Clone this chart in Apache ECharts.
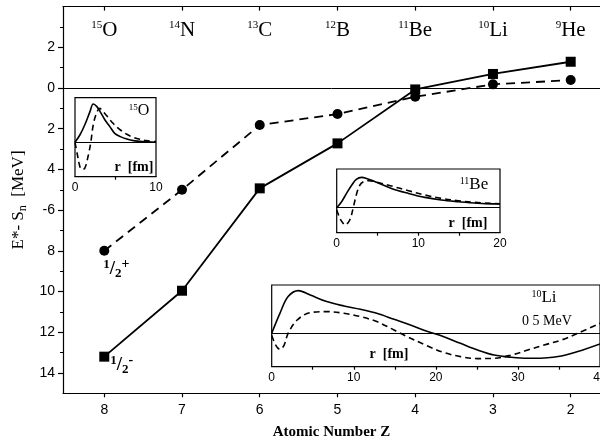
<!DOCTYPE html>
<html><head><meta charset="utf-8">
<script src="https://cdn.jsdelivr.net/npm/echarts@6/dist/echarts.min.js"></script>
<style>html,body{margin:0;padding:0;background:#fff}#c{width:600px;height:443px}</style>
</head><body><div id="c"></div>
<script>
// ---- main panel data ----
const zValues = [8, 7, 6, 5, 4, 3, 2];
const massNumbers = [15, 14, 13, 12, 11, 10, 9];
const elementSymbols = ['O', 'N', 'C', 'B', 'Be', 'Li', 'He'];
const plusEnergies = [-8.0, -5.0, -1.82, -1.28, -0.43, 0.18, 0.39];     // 1/2+ (dashed, circles)
const minusEnergies = [-13.2, -9.96, -4.93, -2.72, -0.07, 0.69, 1.29];  // 1/2- (solid, squares)
const yMajorTicks = [-14, -12, -10, -8, -6, -4, -2, 0, 2];
const yMinorTicks = [-13, -11, -9, -7, -5, -3, -1, 1, 3];

// ---- inset 15O ----
const o15SolidR = [0, 0.6, 1.2, 1.85, 2.25, 2.7, 3.1, 3.7, 4.3, 4.9, 5.6, 6.4, 7.2, 8.4, 10];
const o15SolidV = [0, 7.3, 17.3, 30.7, 38.3, 35.7, 30.7, 22.3, 15.7, 9, 5.7, 3.3, 1.7, 0.7, 0];
const o15DashR = [0, 0.3, 0.55, 0.8, 1.2, 1.65, 1.95, 2.25, 2.65, 3.05, 3.4, 3.9, 4.7, 5.6, 6.4, 7.2, 8, 8.8, 10];
const o15DashV = [0, -12.7, -22.7, -27, -26, -12.7, 0, 17.3, 29, 34, 31.3, 26.7, 19, 12.3, 8, 5, 3, 1.7, 0.7];
const o15Labels = [0, 10];
const o15Ticks = [5];

// ---- inset 11Be ----
const be11SolidR = [0, 0.6, 1.2, 1.85, 2.4, 3.05, 3.65, 4.7, 6.7, 8.8, 10.8, 12.8, 14.9, 16.9, 18.2, 20];
const be11SolidV = [0, 6, 14.3, 22.7, 28.3, 30.3, 29.3, 26, 19.3, 14.3, 10.3, 7.7, 6, 4.7, 4, 3.8];
const be11DashR = [0, 0.4, 0.8, 1.0, 1.6, 2.05, 2.45, 2.85, 3.3, 3.9, 4.7, 6.7, 8.8, 10.8, 12.8, 14.9, 16.9, 20];
const be11DashV = [-2, -10.7, -15.7, -17.3, -12.3, 1, 14.3, 22.7, 26, 27, 26, 21.7, 17, 12.7, 9.3, 7, 5.3, 4];
const be11Labels = [0, 10, 20];
const be11Ticks = [5, 10, 15];

// ---- inset 10Li ----
const li10SolidR = [0, 1, 2, 3.25, 4.7, 6.7, 8.8, 10.8, 12.8, 14.9, 16.9, 19, 20.4, 23, 25.1, 27.1, 29.2, 31.2, 33.2, 35.3, 37.3, 40];
const li10SolidV = [0, 20, 36.7, 42.7, 38.3, 31.7, 27.3, 24, 20, 14, 8.3, 1.7, -1.7, -10, -16.7, -21.7, -24, -25, -24.7, -22.7, -18.3, -10.7];
const li10DashR = [0, 0.5, 1, 1.5, 2, 3.1, 4.7, 6.7, 8.8, 10.8, 12.8, 14.9, 16.1, 19, 21, 23, 25.1, 27.1, 29.2, 31.2, 33.2, 35.3, 37.3, 40];
const li10DashV = [-2, -12, -16, -12, 0, 13.3, 20.7, 21.7, 20, 16.7, 11.7, 3.3, -1.7, -12.7, -19.3, -23.3, -25.3, -25, -21.7, -16.7, -11.7, -6.7, 0, 10];
const li10Labels = [0, 10, 20, 30, 40];
const li10Ticks = [5, 10, 15, 20, 25, 30, 35];

const SERIF = "'Liberation Serif','Times New Roman','DejaVu Serif',serif";
const SANS = "'Liberation Sans',Arial,Helvetica,sans-serif";
const pairs = (xs, ys) => xs.map((x, i) => [x, ys[i]]);

const fracRich = {
  a: {fontFamily: SERIF, fontSize: 13, fontWeight: 'bold', color: '#000', verticalAlign: 'top', lineHeight: 22},
  b: {fontFamily: SERIF, fontSize: 19, fontWeight: 'bold', color: '#000', verticalAlign: 'middle', lineHeight: 22},
  c: {fontFamily: SERIF, fontSize: 13, fontWeight: 'bold', color: '#000', verticalAlign: 'bottom', lineHeight: 22},
  d: {fontFamily: SERIF, fontSize: 14, fontWeight: 'bold', color: '#000', verticalAlign: 'top', lineHeight: 22}
};

const plusData = pairs(zValues, plusEnergies).map((p, i) => i === 0 ? {
  value: p, label: {show: true, position: [4, 12], formatter: '{a|1}{b|/}{c|2}{d|+}', rich: fracRich}
} : p);
const minusData = pairs(zValues, minusEnergies).map((p, i) => i === 0 ? {
  value: p, label: {show: true, position: [11, 2], formatter: '{a|1}{b|/}{c|2}{d|-}', rich: fracRich}
} : p);

function insetX(gridIndex, max, labels, ticks) {
  return {
    gridIndex, type: 'value', min: 0, max, position: 'bottom',
    axisLine: {show: true, onZero: false, lineStyle: {color: '#000', width: 1.2}},
    axisTick: {show: true, customValues: ticks, length: 3, inside: false, lineStyle: {color: '#000', width: 1.2}},
    axisLabel: {customValues: labels, margin: 5, fontSize: 12, fontFamily: SANS, color: '#000'},
    splitLine: {show: false}
  };
}
function insetY(gridIndex, min, max) {
  return {gridIndex, type: 'value', min, max, show: false, splitLine: {show: false}};
}
function insetSeries(idx, r, v, dashed, zero) {
  const s = {
    type: 'line', xAxisIndex: idx, yAxisIndex: idx, data: pairs(r, v), showSymbol: false,
    smooth: 0.35, silent: true, z: 5,
    lineStyle: {color: '#000', width: 1.6, type: dashed ? [6, 4] : 'solid'}
  };
  if (zero) {
    s.markLine = {silent: true, symbol: ['none', 'none'], label: {show: false},
      lineStyle: {color: '#000', width: 1, type: 'solid'}, data: [{yAxis: 0}]};
  }
  return s;
}
const insetGrid = (left, top, width, height) => ({left, top, width, height, show: true,
  outerBoundsMode: 'none', containLabel: false,
  borderColor: '#000', borderWidth: 1.2, backgroundColor: '#fff', z: 3});

const option = {
  animation: false,
  backgroundColor: '#fff',
  grid: [
    {left: 63, top: 6.6, width: 537, height: 386.7, outerBoundsMode: 'none', containLabel: false},
    insetGrid(75, 97.7, 81, 79),
    insetGrid(336.7, 169, 163.3, 63.7),
    insetGrid(271.7, 285, 328.3, 81.7)
  ],
  xAxis: [
    {
      gridIndex: 0, type: 'value', inverse: true, min: 1.623, max: 8.531, position: 'bottom',
      axisLine: {show: true, onZero: false, lineStyle: {color: '#000', width: 1.2}},
      axisTick: {show: true, customValues: zValues, length: 4, lineStyle: {color: '#000', width: 1.2}},
      axisLabel: {customValues: zValues, margin: 10, fontSize: 14, fontFamily: SANS, color: '#000'},
      splitLine: {show: false},
      name: 'Atomic Number Z', nameLocation: 'middle', nameGap: 31,
      nameTextStyle: {fontFamily: SERIF, fontSize: 15, fontWeight: 'bold', color: '#000'}
    },
    {
      gridIndex: 0, type: 'value', inverse: true, min: 1.623, max: 8.531, position: 'top',
      axisLine: {show: true, onZero: false, lineStyle: {color: '#000', width: 1.2}},
      axisTick: {show: true, customValues: zValues, length: 4, inside: true, lineStyle: {color: '#000', width: 1.2}},
      axisLabel: {
        customValues: zValues, inside: true, margin: 13,
        formatter: v => {
          const i = zValues.indexOf(Math.round(v));
          return '{s|' + massNumbers[i] + '}{e|' + elementSymbols[i] + '}';
        },
        rich: {
          s: {fontFamily: SERIF, fontSize: 11, color: '#000', verticalAlign: 'top', lineHeight: 21},
          e: {fontFamily: SERIF, fontSize: 21, color: '#000', verticalAlign: 'bottom', lineHeight: 21}
        }
      },
      splitLine: {show: false}
    },
    insetX(1, 10, o15Labels, o15Ticks),
    insetX(2, 20, be11Labels, be11Ticks),
    insetX(3, 40, li10Labels, li10Ticks)
  ],
  yAxis: [
    {
      gridIndex: 0, type: 'value', min: -15, max: 4, position: 'left',
      axisLine: {show: true, onZero: false, lineStyle: {color: '#000', width: 1.2}},
      axisTick: {show: true, customValues: yMajorTicks, length: 5, lineStyle: {color: '#000', width: 1.2}},
      axisLabel: {customValues: yMajorTicks, margin: 8, fontSize: 14, fontFamily: SANS, color: '#000',
        formatter: v => (v === -6 ? '-6' : String(Math.abs(v)))},
      splitLine: {show: false},
      name: 'E*- S{sub|n}  [MeV]', nameLocation: 'middle', nameGap: 30,
      nameTextStyle: {fontFamily: SERIF, fontSize: 17, color: '#000',
        rich: {sub: {fontFamily: SERIF, fontSize: 12, color: '#000', verticalAlign: 'bottom', lineHeight: 20}}}
    },
    {
      gridIndex: 0, type: 'value', min: -15, max: 4, position: 'left', offset: 0,
      axisLine: {show: false},
      axisTick: {show: true, customValues: yMinorTicks, length: 3, lineStyle: {color: '#000', width: 1}},
      axisLabel: {show: false}, splitLine: {show: false}
    },
    insetY(1, -34.4, 44.6),
    insetY(2, -25, 38.7),
    insetY(3, -33.4, 48.3)
  ],
  series: [
    {
      name: '1/2+', type: 'line', xAxisIndex: 0, yAxisIndex: 0, data: plusData,
      symbol: 'circle', symbolSize: 10, z: 2,
      itemStyle: {color: '#000'},
      lineStyle: {color: '#000', width: 1.8, type: [9, 6]},
      markLine: {silent: true, symbol: ['none', 'none'], label: {show: false},
        lineStyle: {color: '#000', width: 1, type: 'solid'}, data: [{yAxis: 0}]}
    },
    {
      name: '1/2-', type: 'line', xAxisIndex: 0, yAxisIndex: 0, data: minusData,
      symbol: 'rect', symbolSize: 10, z: 2,
      itemStyle: {color: '#000'},
      lineStyle: {color: '#000', width: 1.8, type: 'solid'}
    },
    insetSeries(2, o15SolidR, o15SolidV, false, true),
    insetSeries(2, o15DashR, o15DashV, true, false),
    insetSeries(3, be11SolidR, be11SolidV, false, true),
    insetSeries(3, be11DashR, be11DashV, true, false),
    insetSeries(4, li10SolidR, li10SolidV, false, true),
    insetSeries(4, li10DashR, li10DashV, true, false)
  ],
  graphic: [
    {type: 'text', x: 139, y: 111, z: 10, style: {text: '{s|15}{e|O}', align: 'center', verticalAlign: 'middle',
      rich: {s: {fontFamily: SERIF, fontSize: 9, fill: '#000', verticalAlign: 'top', lineHeight: 16},
             e: {fontFamily: SERIF, fontSize: 16, fill: '#000', verticalAlign: 'bottom', lineHeight: 16}}}},
    {type: 'text', x: 134, y: 167, z: 10, style: {text: 'r  [fm]', align: 'center', verticalAlign: 'middle',
      font: "bold 14px 'Liberation Serif', serif", fill: '#000'}},
    {type: 'text', x: 474, y: 185, z: 10, style: {text: '{s|11}{e|Be}', align: 'center', verticalAlign: 'middle',
      rich: {s: {fontFamily: SERIF, fontSize: 10, fill: '#000', verticalAlign: 'top', lineHeight: 17},
             e: {fontFamily: SERIF, fontSize: 17, fill: '#000', verticalAlign: 'bottom', lineHeight: 17}}}},
    {type: 'text', x: 468, y: 223, z: 10, style: {text: 'r  [fm]', align: 'center', verticalAlign: 'middle',
      font: "bold 14px 'Liberation Serif', serif", fill: '#000'}},
    {type: 'text', x: 544, y: 298, z: 10, style: {text: '{s|10}{e|Li}', align: 'center', verticalAlign: 'middle',
      rich: {s: {fontFamily: SERIF, fontSize: 10, fill: '#000', verticalAlign: 'top', lineHeight: 17},
             e: {fontFamily: SERIF, fontSize: 17, fill: '#000', verticalAlign: 'bottom', lineHeight: 17}}}},
    {type: 'text', x: 547, y: 321, z: 10, style: {text: '0 5 MeV', align: 'center', verticalAlign: 'middle',
      font: "14px 'Liberation Serif', serif", fill: '#000'}},
    {type: 'text', x: 389, y: 354, z: 10, style: {text: 'r  [fm]', align: 'center', verticalAlign: 'middle',
      font: "bold 14px 'Liberation Serif', serif", fill: '#000'}}
  ]
};

const chart = echarts.init(document.getElementById('c'), null, {renderer: 'canvas'});
chart.setOption(option);
</script>
</body></html>
